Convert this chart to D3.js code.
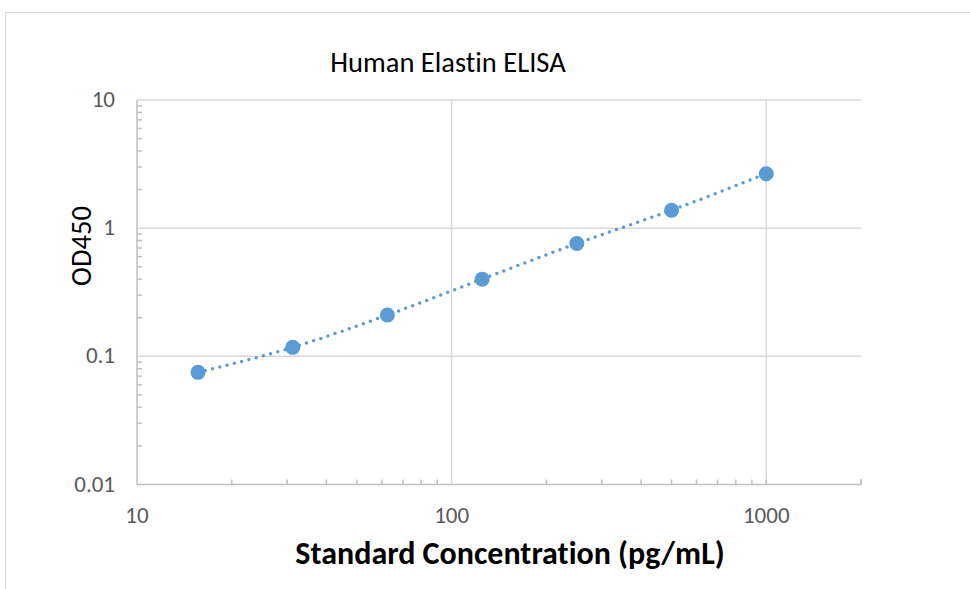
<!DOCTYPE html>
<html>
<head>
<meta charset="utf-8">
<script src="https://cdn.jsdelivr.net/npm/d3@7"></script>
<style>
  body { margin: 0; background: #fff; }
  svg { display: block; }
  text { font-family: Carlito, "Open Sans", "Liberation Sans", sans-serif; font-variant-ligatures: none; }
</style>
</head>
<body>
<div id="chart"></div>
<script>
// standard curve values
const concentrations = [15.625, 31.25, 62.5, 125, 250, 500, 1000];
const od450 = [0.075, 0.1175, 0.21, 0.4, 0.76, 1.38, 2.66];
const xTickValues = [10, 100, 1000];
const xTickLabels = ['10', '100', '1000'];
const yTickValues = [0.01, 0.1, 1, 10];
const yTickLabels = ['0.01', '0.1', '1', '10'];

const W = 970, H = 589;
const plot = { left: 137, right: 861, top: 100, bottom: 484.5 };

const svg = d3.select('#chart').append('svg')
  .attr('width', W)
  .attr('height', H);

// chart frame
svg.append('rect')
  .attr('x', 5.5).attr('y', 12.5)
  .attr('width', W + 10).attr('height', H + 10)
  .attr('fill', '#fff')
  .attr('stroke', '#d9d9d9')
  .attr('stroke-width', 1);

const x = d3.scaleLog().domain([10, 2000]).range([plot.left, plot.right]);
const y = d3.scaleLog().domain([0.01, 10]).range([plot.bottom, plot.top]);

// minor ticks (2..9 per decade)
const xMinor = [];
[10, 100, 1000].forEach(d => { for (let k = 2; k <= 9; k++) if (d * k <= 2000) xMinor.push(d * k); });
const yMinor = [];
[0.01, 0.1, 1].forEach(d => { for (let k = 2; k <= 9; k++) yMinor.push(d * k); });

// gridlines
svg.append('g').selectAll('line')
  .data(yTickValues.slice(1))
  .join('line')
  .attr('x1', plot.left).attr('x2', plot.right)
  .attr('y1', d => y(d)).attr('y2', d => y(d))
  .attr('stroke', '#d9d9d9').attr('stroke-width', 1.5);

svg.append('g').selectAll('line')
  .data(xTickValues.slice(1))
  .join('line')
  .attr('x1', d => x(d)).attr('x2', d => x(d))
  .attr('y1', plot.top).attr('y2', plot.bottom)
  .attr('stroke', '#d9d9d9').attr('stroke-width', 1.5);

// axis lines + minor ticks
const axisColor = '#bfbfbf';
svg.append('line')
  .attr('x1', plot.left).attr('x2', plot.right)
  .attr('y1', plot.bottom).attr('y2', plot.bottom)
  .attr('stroke', axisColor).attr('stroke-width', 1.5);
svg.append('line')
  .attr('x1', plot.left).attr('x2', plot.left)
  .attr('y1', plot.top).attr('y2', plot.bottom)
  .attr('stroke', axisColor).attr('stroke-width', 1.5);

svg.append('g').selectAll('line')
  .data(xMinor.concat([1000, 2000]))
  .join('line')
  .attr('x1', d => x(d)).attr('x2', d => x(d))
  .attr('y1', plot.bottom - 5).attr('y2', plot.bottom)
  .attr('stroke', axisColor).attr('stroke-width', 1.5);

svg.append('g').selectAll('line')
  .data(yMinor)
  .join('line')
  .attr('x1', plot.left).attr('x2', plot.left + 5)
  .attr('y1', d => y(d)).attr('y2', d => y(d))
  .attr('stroke', axisColor).attr('stroke-width', 1.5);

// tick labels
svg.append('g').selectAll('text')
  .data(yTickValues)
  .join('text')
  .attr('x', 115)
  .attr('y', d => y(d) + 7)
  .attr('text-anchor', 'end')
  .attr('font-size', 23)
  .attr('fill', '#595959')
  .text((d, i) => yTickLabels[i]);

svg.append('g').selectAll('text')
  .data(xTickValues)
  .join('text')
  .attr('x', d => x(d))
  .attr('y', 523)
  .attr('text-anchor', 'middle')
  .attr('font-size', 23)
  .attr('fill', '#595959')
  .text((d, i) => xTickLabels[i]);

// titles
svg.append('text')
  .attr('x', 448).attr('y', 72)
  .attr('text-anchor', 'middle')
  .attr('font-size', 28.5)
  .attr('fill', '#000')
  .text('Human Elastin ELISA');

svg.append('text')
  .attr('x', 510).attr('y', 564)
  .attr('text-anchor', 'middle')
  .attr('font-size', 32)
  .attr('font-weight', 'bold')
  .attr('fill', '#000')
  .text('Standard Concentration (pg/mL)');

svg.append('text')
  .attr('transform', 'translate(91,246) rotate(-90)')
  .attr('text-anchor', 'middle')
  .attr('font-size', 28.5)
  .attr('fill', '#000')
  .text('OD450');

// data
const pts = concentrations.map((c, i) => ({ c, v: od450[i] }));
const blue = '#5b9bd5';

svg.append('path')
  .datum(pts)
  .attr('d', d3.line().x(d => x(d.c)).y(d => y(d.v)).curve(d3.curveMonotoneX))
  .attr('fill', 'none')
  .attr('stroke', blue)
  .attr('stroke-width', 3.5)
  .attr('stroke-linecap', 'round')
  .attr('stroke-dasharray', '0 7.5');

svg.append('g').selectAll('circle')
  .data(pts)
  .join('circle')
  .attr('cx', d => x(d.c))
  .attr('cy', d => y(d.v))
  .attr('r', 7.5)
  .attr('fill', blue);
</script>
</body>
</html>
